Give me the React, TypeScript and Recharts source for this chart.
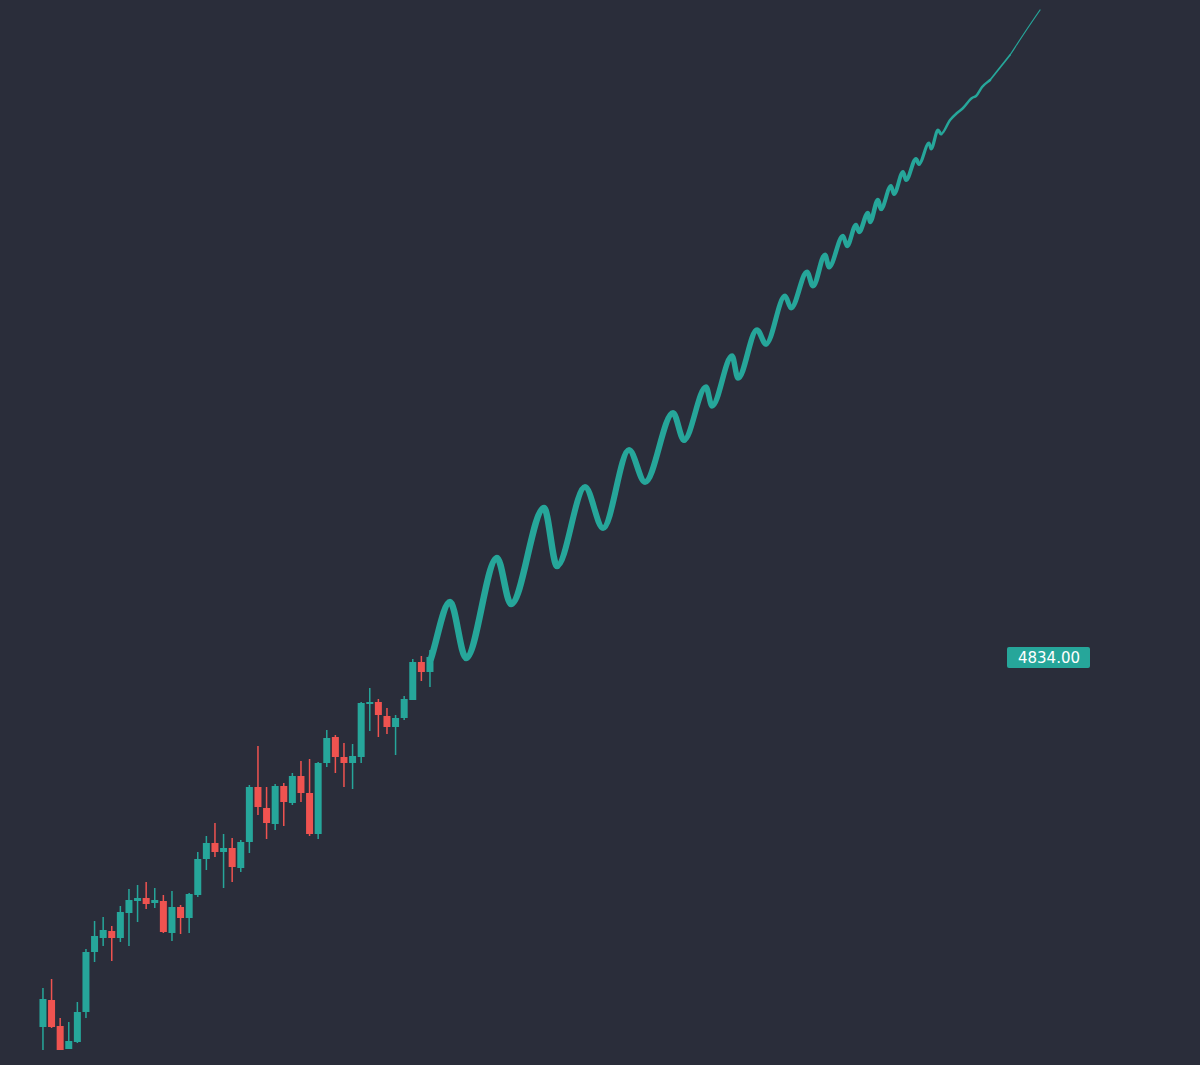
import React from 'react';
import { ComposedChart, Bar, Line, XAxis, YAxis, ReferenceLine } from 'recharts';

// candle OHLC, one per bar index
const opens = [4094, 4148, 4096, 4050, 4064, 4124, 4244, 4272, 4286, 4272, 4322, 4346, 4352, 4342, 4346, 4282, 4334, 4312, 4358, 4430, 4462, 4444, 4452, 4412, 4464, 4574, 4532, 4500, 4576, 4542, 4596, 4562, 4480, 4622, 4674, 4634, 4622, 4634, 4740, 4744, 4716, 4694, 4712, 4748, 4824, 4804];
const highs = [4172, 4190, 4112, 4104, 4144, 4250, 4306, 4314, 4296, 4336, 4370, 4378, 4384, 4372, 4358, 4366, 4338, 4362, 4444, 4476, 4502, 4480, 4472, 4468, 4578, 4656, 4574, 4580, 4582, 4602, 4626, 4630, 4624, 4688, 4678, 4662, 4660, 4744, 4772, 4750, 4732, 4718, 4756, 4830, 4836, 4848];
const lows = [4048, 4092, 4048, 4050, 4062, 4112, 4224, 4256, 4226, 4264, 4256, 4304, 4330, 4332, 4282, 4266, 4280, 4282, 4354, 4408, 4434, 4372, 4384, 4404, 4442, 4518, 4470, 4488, 4496, 4538, 4544, 4476, 4470, 4614, 4602, 4574, 4570, 4622, 4686, 4674, 4680, 4638, 4708, 4748, 4786, 4774];
const closes = [4150, 4094, 4048, 4066, 4124, 4244, 4276, 4288, 4272, 4324, 4348, 4352, 4340, 4348, 4284, 4334, 4312, 4360, 4430, 4462, 4444, 4452, 4414, 4464, 4574, 4534, 4502, 4576, 4544, 4596, 4562, 4480, 4622, 4672, 4634, 4622, 4636, 4742, 4744, 4718, 4694, 4712, 4750, 4824, 4804, 4834];

// projection path: bar position and price at each turning point
const pathX = [45.1, 47.33, 49.19, 52.79, 54.42, 58.26, 59.77, 63.02, 65.12, 68.14, 70.0, 73.26, 74.53, 77.09, 77.79, 80.12, 80.81, 83.02, 84.07, 86.28, 86.98, 88.84, 89.53, 90.93, 91.4, 93.02, 93.49, 94.53, 94.88, 95.93, 96.16, 97.09, 97.44, 98.6, 98.95, 100.0, 100.35, 101.51, 101.86, 103.02, 103.26, 104.07, 104.42, 105.47, 106.28, 106.98, 108.02, 108.49, 109.19, 110.12, 111.05, 112.44, 114.19, 115.93];
const pathPrice = [4830, 4944, 4832, 5032, 4940, 5132, 5016, 5174, 5092, 5248, 5184, 5322, 5268, 5374, 5336, 5436, 5392, 5488, 5460, 5556, 5532, 5604, 5576, 5638, 5614, 5676, 5656, 5698, 5684, 5722, 5704, 5748, 5730, 5776, 5760, 5804, 5788, 5830, 5820, 5862, 5850, 5888, 5880, 5908, 5922, 5932, 5952, 5956, 5974, 5988, 6008, 6038, 6084, 6128];

const lastPrice = 4834;

const BG = '#2a2d3a';
const UP = '#26a69a';
const DOWN = '#ef5350';
const BODY_W = 7;

// path split into pieces that get thinner towards the end
// [startIdx, endIdx, strokeWidth, flatStart, flatEnd]
const pieces: [number, number, number, boolean, boolean][] = [
  [0, 6, 6.5, false, true],
  [6, 12, 6, true, true],
  [12, 18, 5.5, true, true],
  [18, 24, 5, true, true],
  [24, 32, 4.5, true, true],
  [32, 38, 4, true, true],
  [38, 42, 3.2, true, true],
  [42, 49, 2.5, true, false],
  [49, 51, 1.8, false, false],
  [51, 53, 1.2, false, false],
];

const candles = opens.map((o, i) => ({
  x: i,
  open: o,
  high: highs[i],
  low: lows[i],
  close: closes[i],
}));

const pathPoints = pathX.map((x, i) => ({ x, p: pathPrice[i] }));

// monotone-x curve whose end tangents can be forced flat, so pieces join smoothly at turning points
function makeCurve(flatStart: boolean, flatEnd: boolean) {
  return (context: any) => {
    let xs: number[] = [];
    let ys: number[] = [];
    return {
      areaStart() {},
      areaEnd() {},
      lineStart() {
        xs = [];
        ys = [];
      },
      point(x: number, y: number) {
        xs.push(+x);
        ys.push(+y);
      },
      lineEnd() {
        const n = xs.length;
        if (!n) return;
        context.moveTo(xs[0], ys[0]);
        if (n === 1) return;
        const t: number[] = new Array(n).fill(0);
        for (let i = 1; i < n - 1; i++) {
          const h0 = xs[i] - xs[i - 1];
          const h1 = xs[i + 1] - xs[i];
          const s0 = (ys[i] - ys[i - 1]) / h0;
          const s1 = (ys[i + 1] - ys[i]) / h1;
          const p = (s0 * h1 + s1 * h0) / (h0 + h1);
          t[i] = (Math.sign(s0) + Math.sign(s1)) * Math.min(Math.abs(s0), Math.abs(s1), 0.5 * Math.abs(p)) || 0;
        }
        t[0] = flatStart ? 0 : (ys[1] - ys[0]) / (xs[1] - xs[0]);
        t[n - 1] = flatEnd ? 0 : (ys[n - 1] - ys[n - 2]) / (xs[n - 1] - xs[n - 2]);
        for (let i = 0; i < n - 1; i++) {
          const dx = (xs[i + 1] - xs[i]) / 3;
          context.bezierCurveTo(xs[i] + dx, ys[i] + dx * t[i], xs[i + 1] - dx, ys[i + 1] - dx * t[i + 1], xs[i + 1], ys[i + 1]);
        }
      },
    };
  };
}

const Candle = (props: any) => {
  const { x, y, width, height, payload } = props;
  if (!payload) return null;
  const { open, close, high, low } = payload;
  const h = Math.abs(height);
  const top = Math.min(y, y + height);
  const ppu = high === low ? 0 : h / (high - low);
  const color = close >= open ? UP : DOWN;
  const bTop = top + (high - Math.max(open, close)) * ppu;
  const bBot = top + (high - Math.min(open, close)) * ppu;
  const cx = x + (width || 0) / 2;
  return (
    <g>
      <rect x={cx - 0.75} y={top} width={1.5} height={h} fill={color} />
      <rect x={cx - BODY_W / 2} y={bTop} width={BODY_W} height={Math.max(1.5, bBot - bTop)} fill={color} />
    </g>
  );
};

const PriceTag = (props: any) => {
  const vb = props.viewBox || {};
  const y = vb.y ?? 0;
  return (
    <g>
      <rect x={1007} y={y - 10} width={83} height={21} rx={2} fill={UP} />
      <text x={1049} y={y + 5.5} textAnchor="middle" fill="#ffffff" fontSize={15} fontFamily="DejaVu Sans, sans-serif">
        {lastPrice.toFixed(2)}
      </text>
    </g>
  );
};

export default function App() {
  return (
    <div style={{ position: 'absolute', left: 0, top: 0, width: 1200, height: 1065, background: BG }}>
      <ComposedChart width={1200} height={1065} data={candles} margin={{ top: 0, right: 0, bottom: 0, left: 0 }}>
        <XAxis dataKey="x" type="number" domain={[-5, 134.53]} allowDataOverflow hide />
        <YAxis type="number" domain={[4018, 6148]} allowDataOverflow hide />
        <Bar dataKey={(d: any) => [d.low, d.high]} barSize={7} shape={<Candle />} isAnimationActive={false} />
        {pieces.map(([a, b, w, fs, fe], k) => (
          <Line
            key={k}
            data={pathPoints.slice(a, b + 1)}
            dataKey="p"
            type={makeCurve(fs, fe) as any}
            stroke={UP}
            strokeWidth={w}
            strokeLinecap="round"
            strokeLinejoin="round"
            dot={false}
            activeDot={false}
            isAnimationActive={false}
          />
        ))}
        <ReferenceLine y={lastPrice} stroke="none" label={<PriceTag />} />
      </ComposedChart>
    </div>
  );
}
